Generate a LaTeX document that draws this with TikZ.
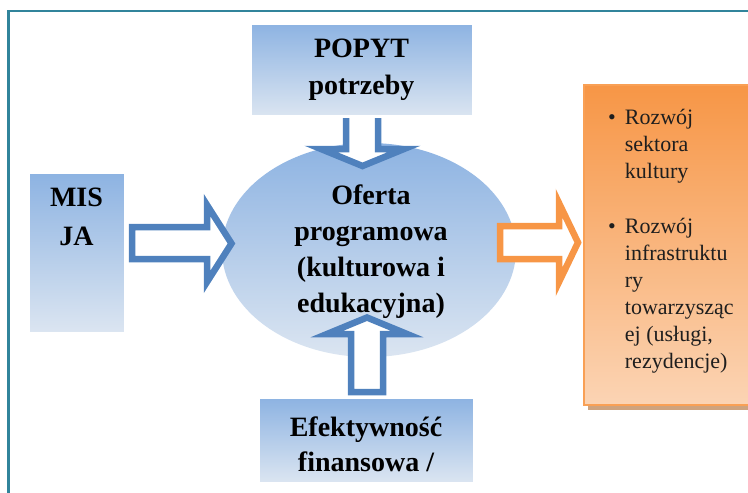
\documentclass[tikz,border=0pt]{standalone}
\usepackage{fontspec}
\setmainfont{Liberation Serif}
\usetikzlibrary{shapes.geometric}
\definecolor{blueTop}{RGB}{141,179,226}
\definecolor{blueBot}{RGB}{219,229,241}
\definecolor{arrowBlue}{RGB}{79,129,189}
\definecolor{orangeTop}{RGB}{247,150,70}
\definecolor{orangeBot}{RGB}{251,212,180}
\definecolor{orangeEdge}{RGB}{249,160,85}
\definecolor{shadowTan}{RGB}{206,163,126}
\definecolor{frameTeal}{RGB}{49,132,155}
\definecolor{textDark}{RGB}{30,30,30}
\begin{document}
\begin{tikzpicture}[x=1pt,y=-1pt,
  bluebox/.style={rectangle, top color=blueTop, bottom color=blueBot, draw=white, line width=1pt, inner sep=0pt},
  bluetext/.style={inner sep=0pt, align=center, font=\bfseries\fontsize{28}{37}\selectfont},
  blockarrow/.style={line width=6.5pt, fill=white, line join=miter, miter limit=10},
  outtext/.style={inner sep=0pt, text=textDark, font=\fontsize{22}{27}\selectfont}]
\useasboundingbox (0,0) rectangle (748,493);
\clip (0,0) rectangle (748,493);
% frame
\draw[frameTeal, line width=2.5pt] (8.5,520) -- (8.5,11) -- (780,11);
% side boxes
\node[bluebox, minimum width=95pt, minimum height=159pt] (misja) at (76.5,252.5) {};
\node[bluebox, minimum width=214pt, minimum height=84pt] (efekt) at (366,440) {};
% central ellipse
\node[ellipse, top color=blueTop, bottom color=blueBot, minimum width=294pt, minimum height=214pt, inner sep=0pt] (offer) at (369,250) {};
% outcome box with shadow
\fill[shadowTan] (588,90) rectangle (780,410);
\node[rectangle, top color=orangeTop, bottom color=orangeBot, draw=orangeEdge, line width=2pt, minimum width=200pt, minimum height=320pt, inner sep=0pt] (outbox) at (684,245) {};
% block arrows
\draw[blockarrow, draw=arrowBlue] (132,227) -- (207,227) -- (207,205) -- (231.5,243.5) -- (207,282) -- (207,259) -- (132,259) -- cycle;
\draw[blockarrow, draw=orangeTop] (500,226) -- (559,226) -- (559,203) -- (578,242.5) -- (559,282) -- (559,259) -- (500,259) -- cycle;
\draw[blockarrow, draw=arrowBlue] (346,100) -- (346,149) -- (321,149) -- (362.5,166) -- (404,149) -- (378,149) -- (378,100) -- cycle;
\draw[blockarrow, draw=arrowBlue] (351,392) -- (351,334) -- (327,334) -- (367,317.5) -- (407,334) -- (383,334) -- (383,392) -- cycle;
% top box over the arrow shaft
\node[bluebox, draw=white, line width=3pt, minimum width=223pt, minimum height=93pt] (popyt) at (361.5,70) {};
% texts
\node[bluetext] (popyttext) at (popyt.center) {POPYT\\potrzeby};
\node[bluetext, font=\bfseries\fontsize{28}{39}\selectfont] (mistext) at (76.5,217) {MIS\\JA};
\node[bluetext, font=\bfseries\fontsize{28}{35}\selectfont] (efekttext) at (366,444) {Efektywność\\finansowa /};
\node[bluetext, font=\bfseries\fontsize{28}{36}\selectfont] (offertext) at (371,252) {Oferta\\programowa\\(kulturowa i\\edukacyjna)};
\node[outtext, anchor=north west] (outtextnode) at (608,105) {\begin{tabular}{@{}l@{\hspace{9pt}}l@{}}
\textbullet & Rozwój\\
 & sektora\\
 & kultury\\[28pt]
\textbullet & Rozwój\\
 & infrastruktu\\
 & ry\\
 & towarzysząc\\
 & ej (usługi,\\
 & rezydencje)
\end{tabular}};
\end{tikzpicture}
\end{document}
